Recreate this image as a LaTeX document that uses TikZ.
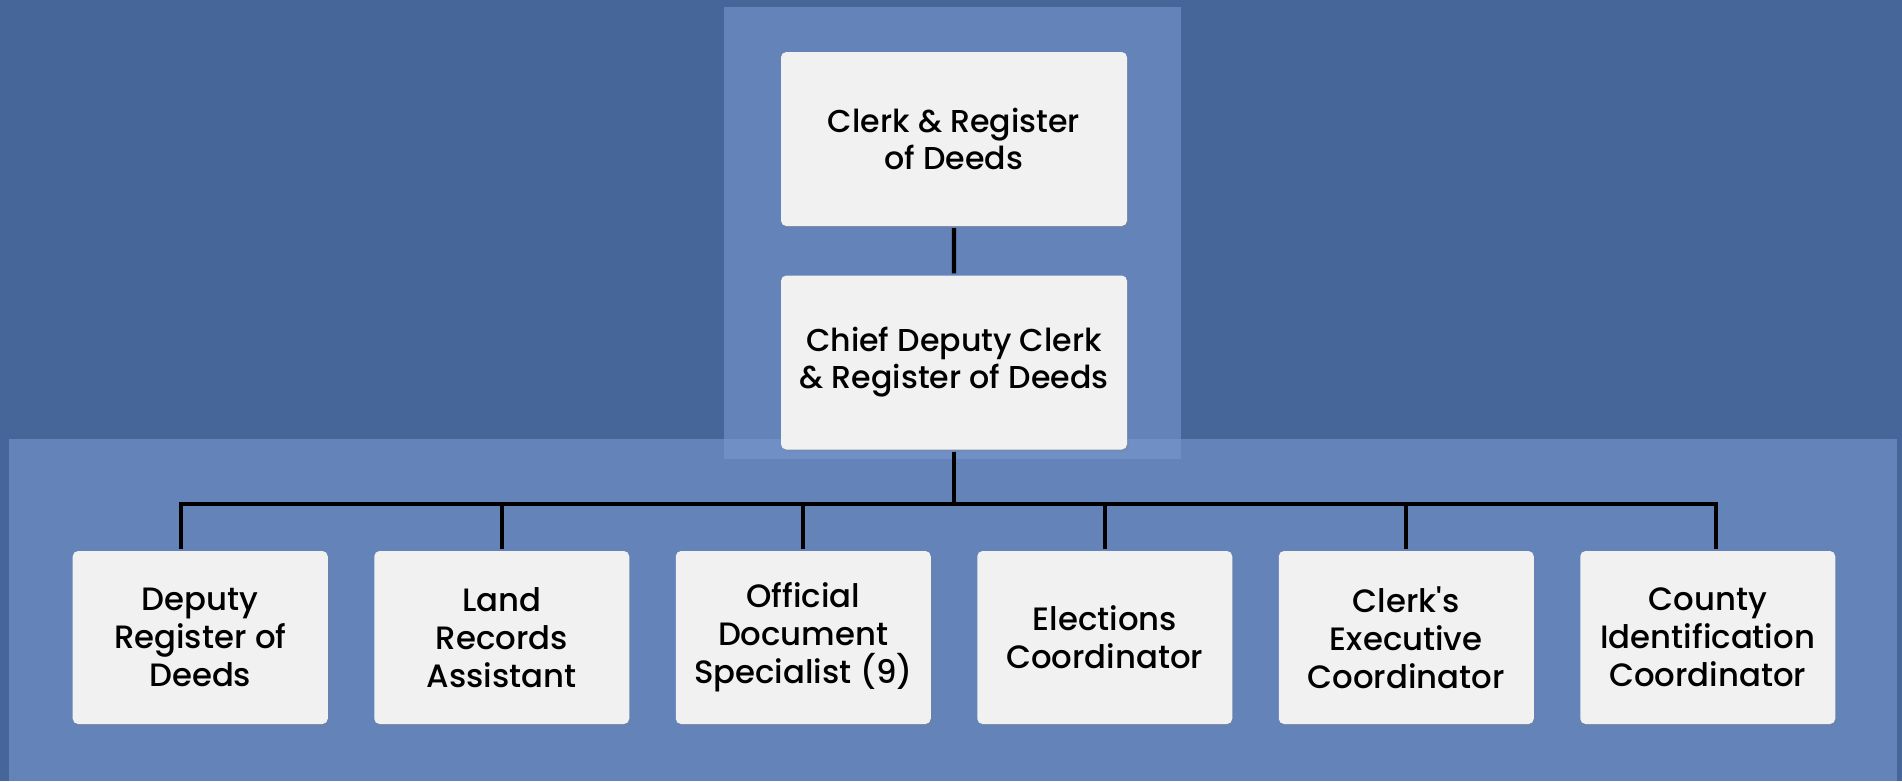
\documentclass[tikz,border=0pt]{standalone}
\usepackage{fontspec}
\setmainfont{Poppins}[UprightFont={* Medium}]
\usetikzlibrary{trees,positioning,shadows}
\definecolor{bgblue}{RGB}{70,102,154}
\definecolor{panelblue}{RGB}{120,151,206}
\definecolor{boxgrey}{RGB}{241,241,241}
\tikzset{
	orgbox/.style = {rectangle, align=center, inner sep=0pt, text=black,
		fill=boxgrey, rounded corners=1.5pt,
		drop shadow={opacity=0.25, shadow xshift=0.4pt, shadow yshift=-0.6pt}},
	org_head/.style = {orgbox, minimum width=3.46cm, minimum height=1.74cm,
		font=\fontsize{9}{10.5}\selectfont},% clerk and chief deputy
	org_staff/.style = {orgbox, minimum width=2.55cm, minimum height=1.73cm,
		font=\fontsize{9.2}{10.8}\selectfont},% bottom row
	panel/.style = {fill=panelblue, fill opacity=0.6},
	drop_at/.style = {edge from parent path={(\tikzparentnode.south) -- ++(0,-0.52)
		-| ([xshift=#1]\tikzchildnode.north)}}
}
\begin{document}
\begin{tikzpicture}[line width=1.2pt,
	level 1/.style={level distance=2.235cm},
	level 2/.style={level distance=2.75cm, sibling distance=3.015cm, drop_at=0cm}]
\useasboundingbox (0,0) rectangle (19.02,-7.81);
\fill[bgblue] (0,0) rectangle (19.02,-7.81);
\fill[panel] (7.24,-0.07) rectangle (11.81,-4.59);
\fill[panel] (0.09,-4.39) rectangle (18.97,-7.81);
\node [org_head] (clerk) at (9.54,-1.39) {Clerk \& Register\\of Deeds}
child{ node [org_head] (chief) {Chief Deputy Clerk\\\& Register of Deeds}
	child[drop_at=-0.19cm]{ node [org_staff] (deputy) {Deputy\\Register of\\Deeds}}
	child{ node [org_staff] (land) {Land\\Records\\Assistant}}
	child{ node [org_staff] (official) {Official\\Document\\Specialist (9)}}
	child{ node [org_staff] (elections) {Elections\\Coordinator}}
	child{ node [org_staff] (executive) {Clerk\textquotesingle s\\Executive\\Coordinator}}
	child[drop_at=0.085cm]{ node [org_staff] (county) {County\\Identification\\Coordinator}}
};
\end{tikzpicture}
\end{document}
